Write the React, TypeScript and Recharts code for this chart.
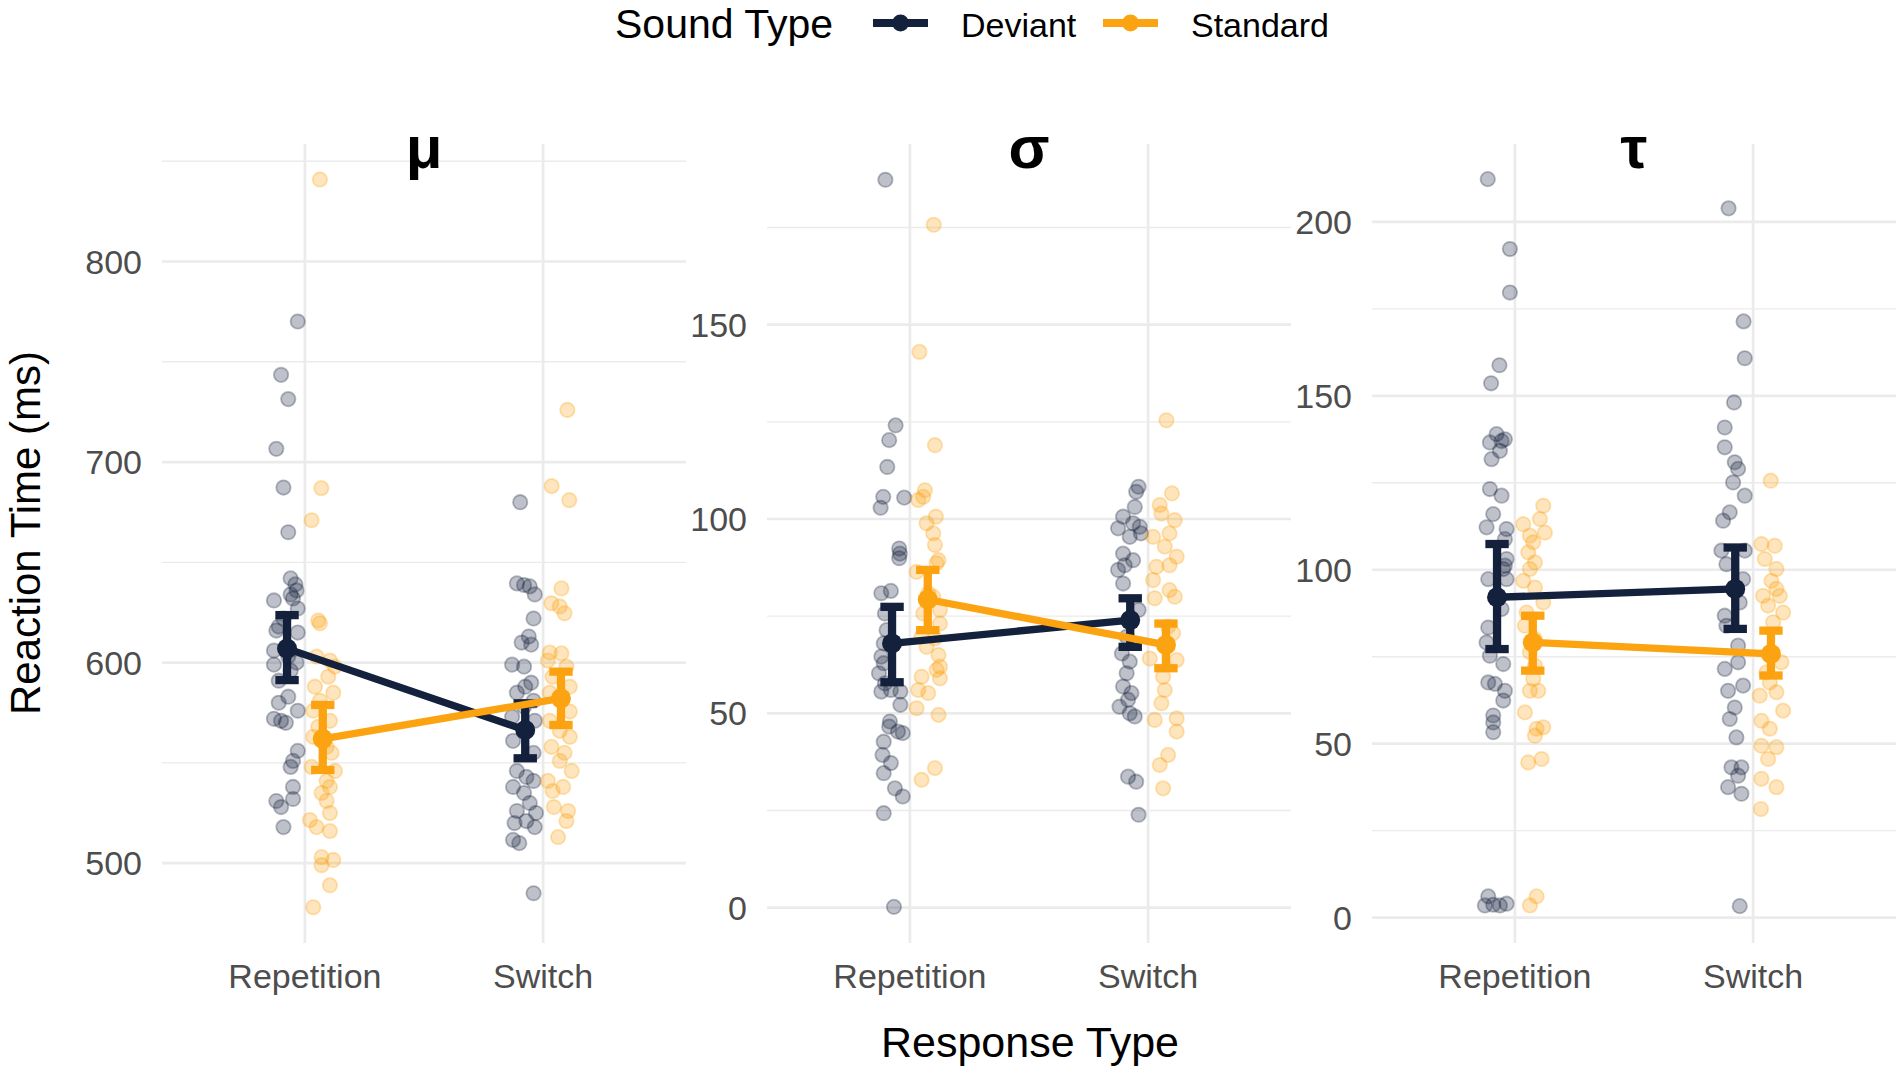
import React from "react";
import {
  ComposedChart,
  Scatter,
  XAxis,
  YAxis,
  CartesianGrid,
  ErrorBar,
} from "recharts";

const NAVY = "#14213D";
const ORANGE = "#FCA311";
const GRID = "#EBEBEB";
const FONT = "'Liberation Sans', Arial, sans-serif";

const categories = ["Repetition", "Switch"];
const soundTypes = ["Deviant", "Standard"];

// per-participant estimates: [value, horizontal offset from the category centre]
type Pt = [number, number];

const muDevRep: Pt[] = [
  [770.1, -0.03], [743.5, -0.1], [731.4, -0.07], [706.6, -0.12], [687.3, -0.09], [665, -0.07],
  [642, -0.06], [639, -0.04], [636, -0.035], [634, -0.06], [631, -0.13], [632, -0.05], [627, -0.03],
  [622, -0.09], [618, -0.11], [616, -0.12], [615, -0.03], [606, -0.13], [603, -0.07], [599, -0.13],
  [600, -0.035], [596, -0.06], [591, -0.11], [583, -0.07], [580, -0.11], [576, -0.03], [572, -0.13],
  [571, -0.1], [570, -0.08], [556, -0.03], [551, -0.05], [548, -0.06], [538, -0.05], [531, -0.12],
  [528, -0.1], [532, -0.05], [518, -0.09],
];
const muStdRep: Pt[] = [
  [840.9, 0.063], [687, 0.069], [671, 0.028], [621, 0.056], [619.6, 0.063], [603, 0.049], [601, 0.105],
  [598, 0.126], [593, 0.098], [588, 0.042], [585, 0.119], [581, 0.063], [576, 0.035], [571, 0.105],
  [568, 0.056], [563, 0.035], [558, 0.091], [555, 0.112], [548, 0.028], [546, 0.126], [541, 0.091],
  [538, 0.105], [535, 0.07], [531, 0.091], [525, 0.105], [521.5, 0.021], [518, 0.049], [516, 0.105],
  [503, 0.07], [501.6, 0.119], [499, 0.07], [489, 0.105], [478, 0.035],
];
const muDevSw: Pt[] = [
  [680, -0.096], [639.5, -0.11], [638.7, -0.08], [638, -0.056], [634, -0.035], [622, -0.04], [613, -0.06],
  [610, -0.09], [609, -0.05], [599, -0.13], [598, -0.08], [590, -0.05], [588, -0.075], [585, -0.11],
  [581, -0.04], [578, -0.08], [573, -0.13], [571, -0.035], [561, -0.126], [555, -0.04], [546, -0.11],
  [543, -0.07], [541, -0.04], [538, -0.126], [535, -0.08], [530, -0.056], [526, -0.11], [525, -0.03],
  [521, -0.07], [520, -0.12], [518, -0.035], [511.6, -0.126], [510, -0.1], [485, -0.04],
];
const muStdSw: Pt[] = [
  [726, 0.102], [688, 0.036], [681, 0.11], [637, 0.077], [629.6, 0.035], [628, 0.07], [624.6, 0.09],
  [605, 0.028], [604.6, 0.077], [601, 0.02], [598, 0.098], [593, 0.04], [588, 0.112], [585, 0.028],
  [581, 0.077], [575.6, 0.112], [571, 0.028], [566, 0.07], [563, 0.112], [558, 0.035], [555, 0.09],
  [551, 0.07], [546, 0.12], [541, 0.02], [538, 0.084], [536, 0.04], [528, 0.045], [526, 0.105],
  [521, 0.098], [513, 0.063],
];

const sigDevRep: Pt[] = [
  [187.3, -0.103], [124.1, -0.06], [120.3, -0.087], [113.4, -0.095], [105.7, -0.112], [105.5, -0.024],
  [102.9, -0.123], [92.4, -0.045], [91.1, -0.042], [89.9, -0.045], [80.9, -0.12], [81.5, -0.08],
  [75.7, -0.105], [71.4, -0.098], [68, -0.11], [64.6, -0.12], [62.9, -0.11], [60.3, -0.13], [57.7, -0.105],
  [56, -0.08], [55.6, -0.12], [55.6, -0.04], [52.2, -0.04], [47.9, -0.084], [46.6, -0.087], [45.3, -0.05],
  [44.9, -0.03], [42.7, -0.11], [39.3, -0.115], [37.2, -0.08], [34.6, -0.11], [30.7, -0.063], [28.6, -0.03],
  [24.3, -0.11], [0.2, -0.067],
];
const sigStdRep: Pt[] = [
  [175.7, 0.1], [143, 0.04], [119, 0.105], [107.4, 0.063], [105.7, 0.056], [104.9, 0.035], [100.6, 0.109],
  [98.9, 0.07], [96.3, 0.098], [93.3, 0.105], [89.4, 0.12], [88.6, 0.112], [86.4, 0.028], [80.9, 0.077],
  [80, 0.098], [76.6, 0.126], [75.7, 0.056], [73.1, 0.126], [69.7, 0.049], [69.3, 0.105], [67.1, 0.07],
  [65, 0.12], [62, 0.126], [61.2, 0.112], [59.4, 0.049], [59, 0.126], [56, 0.035], [55.2, 0.077],
  [51.3, 0.028], [49.6, 0.12], [35.9, 0.105], [32.9, 0.049],
];
const sigDevSw: Pt[] = [
  [108.3, -0.04], [107, -0.05], [103.1, -0.056], [100.6, -0.105], [98.9, -0.063], [97.6, -0.126],
  [98, -0.035], [95.4, -0.077], [96.3, -0.03], [91.1, -0.105], [89.4, -0.063], [86.9, -0.126],
  [88.1, -0.098], [83.4, -0.105], [76.6, -0.04], [69.7, -0.09], [65.4, -0.11], [63.3, -0.077],
  [60.3, -0.09], [56.9, -0.105], [55.2, -0.07], [53.5, -0.084], [51.7, -0.12], [50, -0.077],
  [49.2, -0.056], [33.7, -0.084], [32.4, -0.05], [23.9, -0.04],
];
const sigStdSw: Pt[] = [
  [125.4, 0.077], [106.6, 0.1], [103.6, 0.049], [101.4, 0.056], [99.7, 0.112], [95.4, 0.021], [96.3, 0.09],
  [92.9, 0.07], [90.3, 0.12], [87.7, 0.035], [88.1, 0.09], [84.3, 0.021], [81.7, 0.09], [80, 0.112],
  [79.6, 0.028], [72.3, 0.084], [70.6, 0.105], [63.7, 0.12], [64.1, 0.007], [59.4, 0.063], [56, 0.07],
  [52.6, 0.056], [48.3, 0.028], [48.7, 0.12], [45.3, 0.12], [39.3, 0.084], [36.7, 0.049], [30.7, 0.063],
];

const tauDevRep: Pt[] = [
  [212.3, -0.114], [192.2, -0.021], [179.7, -0.021], [158.8, -0.065], [153.6, -0.1], [139, -0.077],
  [136.6, -0.105], [137, -0.056], [137.5, -0.042], [134.2, -0.063], [131.8, -0.098], [123.2, -0.105],
  [121.3, -0.056], [116, -0.091], [112.2, -0.119], [111.7, -0.035], [108.8, -0.042], [103.1, -0.035],
  [101.2, -0.042], [100.2, -0.049], [97.3, -0.112], [97.3, -0.035], [88.7, -0.056], [83.4, -0.112],
  [79.1, -0.119], [75.3, -0.105], [72.9, -0.049], [67.6, -0.112], [67.2, -0.084], [65.2, -0.042],
  [62.4, -0.049], [58.1, -0.091], [56.1, -0.091], [53.3, -0.091], [6.1, -0.112], [3.5, -0.126],
  [3.7, -0.091], [3.5, -0.063], [4, -0.035],
];
const tauStdRep: Pt[] = [
  [118.4, 0.119], [113.1, 0.035], [114.6, 0.105], [110.7, 0.126], [109.8, 0.063], [107.9, 0.077],
  [105, 0.056], [102.1, 0.084], [100.2, 0.063], [96.8, 0.035], [94.9, 0.084], [90.6, 0.119], [87.7, 0.049],
  [83.9, 0.042], [80.1, 0.084], [76.3, 0.063], [72.4, 0.084], [68.6, 0.077], [65.2, 0.063], [65.2, 0.098],
  [59, 0.042], [54.3, 0.091], [54.7, 0.119], [52.3, 0.084], [44.6, 0.056], [45.6, 0.112], [6.1, 0.091],
  [3.5, 0.063],
];
const tauDevSw: Pt[] = [
  [203.9, -0.103], [171.4, -0.04], [160.8, -0.035], [148.1, -0.08], [140.9, -0.119], [135.2, -0.119],
  [130.9, -0.077], [129, -0.063], [125.1, -0.084], [121.3, -0.035], [116.5, -0.098], [114.1, -0.126],
  [105.5, -0.133], [101.6, -0.112], [105.5, -0.035], [97.3, -0.042], [90.6, -0.056], [86.8, -0.119],
  [83.9, -0.112], [78.2, -0.063], [73.4, -0.063], [71.5, -0.119], [65.2, -0.105], [66.7, -0.042],
  [60.4, -0.077], [57.1, -0.098], [51.8, -0.07], [43.2, -0.091], [43.2, -0.049], [40.8, -0.063],
  [37.5, -0.105], [35.6, -0.049], [3.3, -0.056],
];
const tauStdSw: Pt[] = [
  [125.6, 0.074], [107.4, 0.035], [106.9, 0.091], [103.1, 0.049], [100.2, 0.098], [96.8, 0.077],
  [94.5, 0.098], [92.5, 0.112], [92.5, 0.042], [89.7, 0.063], [87.7, 0.126], [84.9, 0.084], [76.3, 0.077],
  [73.4, 0.119], [70.5, 0.056], [67.6, 0.07], [64.8, 0.098], [63.8, 0.028], [59.5, 0.126], [56.6, 0.035],
  [54.3, 0.07], [49.4, 0.035], [49, 0.098], [45.6, 0.063], [39.9, 0.035], [37.5, 0.098], [31.2, 0.033],
];

// condition means with interval ends, [Repetition, Switch]
const muDevMean = [607, 566.4];
const muDevLow = [591.3, 552.3];
const muDevHigh = [623.7, 579.7];
const muStdMean = [562, 582.2];
const muStdLow = [546.5, 568.9];
const muStdHigh = [578.9, 595.5];

const sigDevMean = [68, 74];
const sigDevLow = [58, 67.1];
const sigDevHigh = [77.4, 79.6];
const sigStdMean = [79.3, 67.6];
const sigStdLow = [71.4, 61.6];
const sigStdHigh = [86.9, 73.1];

const tauDevMean = [92.1, 94.5];
const tauDevLow = [77.2, 83];
const tauDevHigh = [107.4, 106.4];
const tauStdMean = [79.1, 75.8];
const tauStdLow = [71, 69.6];
const tauStdHigh = [86.8, 82.5];

const muMajor = [500, 600, 700, 800];
const muMinor = [550, 650, 750, 850];
const sigMajor = [0, 50, 100, 150];
const sigMinor = [25, 75, 125, 175];
const tauMajor = [0, 50, 100, 150, 200];
const tauMinor = [25, 75, 125, 175];

const DODGE = 0.075;
const PLOT_TOP = 144;
const PLOT_W = 524;
const PLOT_H = 799;
const Y_W = 90;
const X_H = 70;

const jitter = (cat: number, pts: Pt[]) => pts.map(([v, dx]) => ({ x: cat + dx, y: v }));

const meanRows = (offset: number, mean: number[], low: number[], high: number[]) =>
  mean.map((m, i) => ({ x: i + 1 + offset, y: m, err: [m - low[i], high[i] - m] }));

const dot = (color: string) => (props: any) => (
  <circle
    cx={props.cx}
    cy={props.cy}
    r={7.2}
    fill={color}
    fillOpacity={0.28}
    stroke={color}
    strokeOpacity={0.3}
    strokeWidth={1.8}
  />
);

const meanDot = (color: string) => (props: any) => (
  <circle cx={props.cx} cy={props.cy} r={10} fill={color} />
);

type PanelProps = {
  plotLeft: number;
  domain: [number, number];
  major: number[];
  minor: number[];
  devRep: Pt[];
  stdRep: Pt[];
  devSw: Pt[];
  stdSw: Pt[];
  dev: ReturnType<typeof meanRows>;
  std: ReturnType<typeof meanRows>;
};

function Panel({ plotLeft, domain, major, minor, devRep, stdRep, devSw, stdSw, dev, std }: PanelProps) {
  return (
    <div style={{ position: "absolute", left: plotLeft - Y_W, top: PLOT_TOP }}>
      <ComposedChart
        width={Y_W + PLOT_W}
        height={PLOT_H + X_H}
        margin={{ top: 0, right: 0, bottom: 0, left: 0 }}
      >
        {/* minor then major grid, like theme_minimal */}
        <CartesianGrid stroke={GRID} strokeWidth={1.4} vertical={false} horizontalValues={minor} />
        <CartesianGrid stroke={GRID} strokeWidth={2.7} horizontalValues={major} verticalValues={[1, 2]} />

        <XAxis
          type="number"
          dataKey="x"
          domain={[0.4, 2.6]}
          allowDataOverflow
          ticks={[1, 2]}
          interval={0}
          tickFormatter={(v: number) => categories[Math.round(v) - 1]}
          tick={{ fontSize: 34, fill: "#4D4D4D" }}
          tickLine={false}
          axisLine={false}
          tickSize={0}
          tickMargin={21}
          height={X_H}
        />
        <YAxis
          type="number"
          dataKey="y"
          domain={domain}
          allowDataOverflow
          ticks={major}
          interval={0}
          tick={{ fontSize: 34, fill: "#4D4D4D" }}
          tickLine={false}
          axisLine={false}
          tickSize={0}
          tickMargin={20}
          width={Y_W}
        />

        <Scatter data={jitter(1, devRep)} shape={dot(NAVY)} isAnimationActive={false} />
        <Scatter data={jitter(1, stdRep)} shape={dot(ORANGE)} isAnimationActive={false} />
        <Scatter data={jitter(2, devSw)} shape={dot(NAVY)} isAnimationActive={false} />
        <Scatter data={jitter(2, stdSw)} shape={dot(ORANGE)} isAnimationActive={false} />

        <Scatter
          data={dev}
          shape={meanDot(NAVY)}
          line={{ stroke: NAVY, strokeWidth: 7.3 }}
          lineType="joint"
          isAnimationActive={false}
        >
          <ErrorBar dataKey="err" direction="y" width={11.7} strokeWidth={8.3} stroke={NAVY} />
        </Scatter>
        <Scatter
          data={std}
          shape={meanDot(ORANGE)}
          line={{ stroke: ORANGE, strokeWidth: 7.3 }}
          lineType="joint"
          isAnimationActive={false}
        >
          <ErrorBar dataKey="err" direction="y" width={11.7} strokeWidth={8.3} stroke={ORANGE} />
        </Scatter>
      </ComposedChart>
    </div>
  );
}

const panels = [
  {
    title: "μ",
    plotLeft: 162,
    domain: [460.2, 858.6] as [number, number],
    major: muMajor,
    minor: muMinor,
    devRep: muDevRep,
    stdRep: muStdRep,
    devSw: muDevSw,
    stdSw: muStdSw,
    dev: meanRows(-DODGE, muDevMean, muDevLow, muDevHigh),
    std: meanRows(DODGE, muStdMean, muStdLow, muStdHigh),
  },
  {
    title: "σ",
    plotLeft: 767,
    domain: [-9.1, 196.5] as [number, number],
    major: sigMajor,
    minor: sigMinor,
    devRep: sigDevRep,
    stdRep: sigStdRep,
    devSw: sigDevSw,
    stdSw: sigStdSw,
    dev: meanRows(-DODGE, sigDevMean, sigDevLow, sigDevHigh),
    std: meanRows(DODGE, sigStdMean, sigStdLow, sigStdHigh),
  },
  {
    title: "τ",
    plotLeft: 1372,
    domain: [-7.3, 222.4] as [number, number],
    major: tauMajor,
    minor: tauMinor,
    devRep: tauDevRep,
    stdRep: tauStdRep,
    devSw: tauDevSw,
    stdSw: tauStdSw,
    dev: meanRows(-DODGE, tauDevMean, tauDevLow, tauDevHigh),
    std: meanRows(DODGE, tauStdMean, tauStdLow, tauStdHigh),
  },
];

const legendKeys = [
  { label: soundTypes[0], color: NAVY, x: 873 },
  { label: soundTypes[1], color: ORANGE, x: 1103 },
];

export default function App() {
  return (
    <div
      style={{
        position: "absolute",
        left: 0,
        top: 0,
        width: 1902,
        height: 1072,
        background: "#ffffff",
        fontFamily: FONT,
        overflow: "hidden",
      }}
    >
      {panels.map((p) => (
        <Panel key={p.title} {...p} />
      ))}

      {/* titles, axis labels and legend */}
      <svg
        width={1902}
        height={1072}
        style={{ position: "absolute", left: 0, top: 0, pointerEvents: "none" }}
        fontFamily={FONT}
      >
        <text x={615} y={38} fontSize={41} fill="#000">
          Sound Type
        </text>
        {legendKeys.map((k) => (
          <g key={k.label}>
            <line x1={k.x} x2={k.x + 55} y1={23} y2={23} stroke={k.color} strokeWidth={8} />
            <circle cx={k.x + 27.5} cy={23} r={8.5} fill={k.color} />
            <text x={k.x + 88} y={37} fontSize={34} fill="#000">
              {k.label}
            </text>
          </g>
        ))}

        {panels.map((p) => (
          <text
            key={p.title}
            x={p.plotLeft + PLOT_W / 2}
            y={168}
            fontSize={60}
            fontWeight="bold"
            textAnchor="middle"
            fill="#000"
          >
            {p.title}
          </text>
        ))}

        <text x={1030} y={1057} fontSize={43} textAnchor="middle" fill="#000">
          Response Type
        </text>
        <text
          transform="translate(40,533) rotate(-90)"
          fontSize={42}
          textAnchor="middle"
          fill="#000"
        >
          Reaction Time (ms)
        </text>
      </svg>
    </div>
  );
}
